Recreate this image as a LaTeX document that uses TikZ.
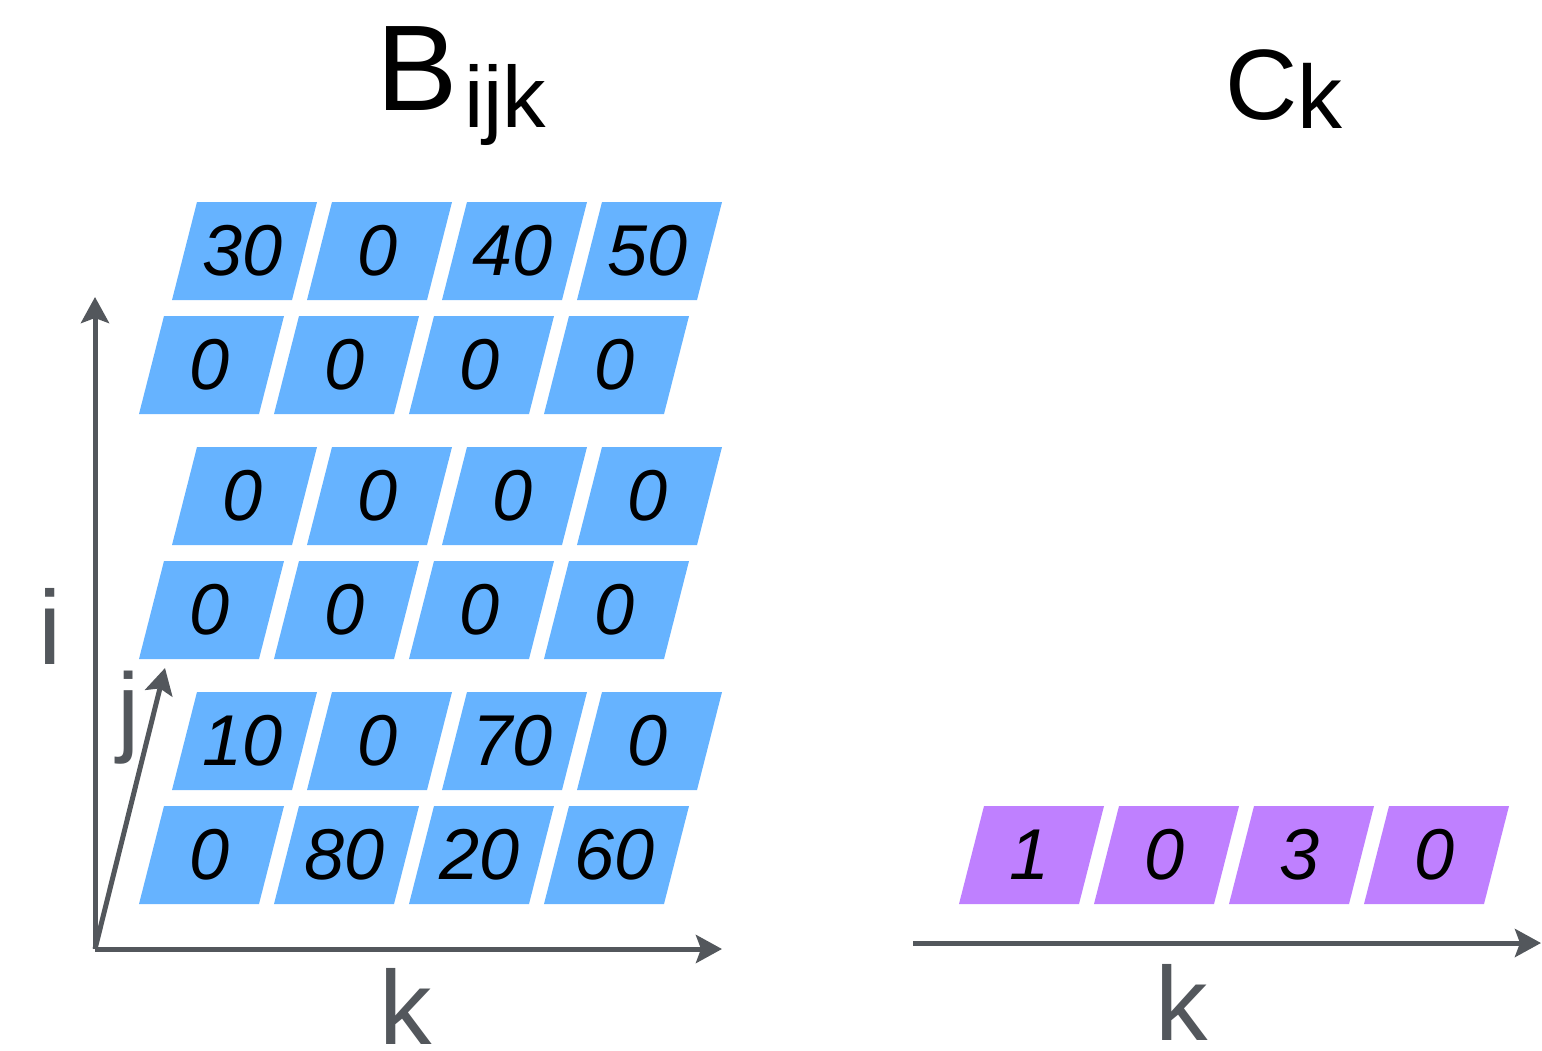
\documentclass[tikz,border=0pt]{standalone}
\usepackage{fontspec}
\setmainfont{Liberation Sans}
\usetikzlibrary{arrows.meta}
\definecolor{cellblue}{HTML}{66B3FF}
\definecolor{cellpurple}{HTML}{BF80FF}
\definecolor{axisgray}{HTML}{53575C}
\tikzset{
  axisline/.style={draw=axisgray, line width=5pt, -{Stealth[length=26pt,width=28pt,inset=5pt]}},
  numtext/.style={font=\fontsize{72}{72}\selectfont\itshape, inner sep=0pt, outer sep=0pt, text=black},
  axislabel/.style={font=\fontsize{105}{105}\selectfont, text=axisgray, inner sep=0pt, outer sep=0pt, anchor=base},
  titletext/.style={inner sep=0pt, outer sep=0pt, anchor=base west, text=black},
}
\newcommand{\mycell}[5]{%
  \fill[#4] (#2,#3) -- ++(120,0) -- ++(25,-98) -- ++(-120,0) -- cycle;
  \node[numtext] (#1) at ({#2+71},{#3-49}) {#5};
}
\begin{document}
\begin{tikzpicture}[x=1pt,y=-1pt]
\useasboundingbox (0,0) rectangle (1542,1050);
% titles
\node[titletext, font=\fontsize{122}{122}\selectfont] (tB) at (376,110) {B};
\node[titletext, font=\fontsize{87}{87}\selectfont] (tBsub) at (464,127) {ijk};
\node[titletext, font=\fontsize{100}{100}\selectfont] (tC) at (1225,119) {C};
\node[titletext, font=\fontsize{90}{90}\selectfont] (tCsub) at (1297,128) {k};
% block 1
\mycell{a1}{172}{300}{cellblue}{30}
\mycell{a2}{307}{300}{cellblue}{0}
\mycell{a3}{442}{300}{cellblue}{40}
\mycell{a4}{577}{300}{cellblue}{50}
\mycell{b1}{139}{414}{cellblue}{0}
\mycell{b2}{274}{414}{cellblue}{0}
\mycell{b3}{409}{414}{cellblue}{0}
\mycell{b4}{544}{414}{cellblue}{0}
% block 2
\mycell{c1}{172}{545}{cellblue}{0}
\mycell{c2}{307}{545}{cellblue}{0}
\mycell{c3}{442}{545}{cellblue}{0}
\mycell{c4}{577}{545}{cellblue}{0}
\mycell{d1}{139}{659}{cellblue}{0}
\mycell{d2}{274}{659}{cellblue}{0}
\mycell{d3}{409}{659}{cellblue}{0}
\mycell{d4}{544}{659}{cellblue}{0}
% block 3
\mycell{e1}{172}{790}{cellblue}{10}
\mycell{e2}{307}{790}{cellblue}{0}
\mycell{e3}{442}{790}{cellblue}{70}
\mycell{e4}{577}{790}{cellblue}{0}
\mycell{f1}{139}{904}{cellblue}{0}
\mycell{f2}{274}{904}{cellblue}{80}
\mycell{f3}{409}{904}{cellblue}{20}
\mycell{f4}{544}{904}{cellblue}{60}
% C vector
\mycell{p1}{959}{904}{cellpurple}{1}
\mycell{p2}{1094}{904}{cellpurple}{0}
\mycell{p3}{1229}{904}{cellpurple}{3}
\mycell{p4}{1364}{904}{cellpurple}{0}
% axes
\coordinate (O) at (95,949);
\coordinate (itip) at (95,297);
\coordinate (jtip) at (165,668);
\coordinate (ktip) at (722,949);
\coordinate (R0) at (913,943);
\coordinate (rktip) at (1541,943);
\draw[axisline] (O) -- (itip);
\draw[axisline] (O) -- (jtip);
\draw[axisline] (O) -- (ktip);
\draw[axisline] (R0) -- (rktip);
% axis labels
\node[axislabel] (li) at (50.5,664) {i};
\node[axislabel, font=\fontsize{100}{100}\selectfont] (lj) at (129,743) {j};
\node[axislabel] (lk) at (406,1044) {k};
\node[axislabel] (lrk) at (1182,1040) {k};
\end{tikzpicture}
\end{document}
